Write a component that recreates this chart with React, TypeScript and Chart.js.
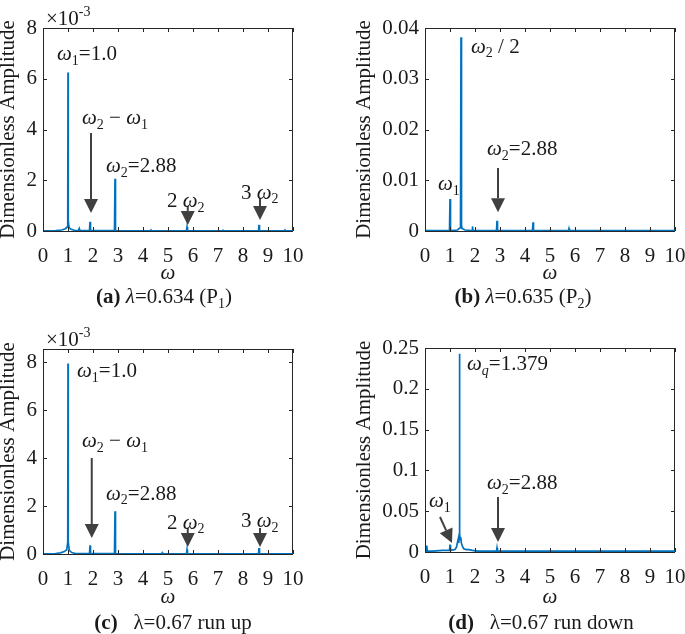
import React, { useEffect, useRef } from 'react';
import { Chart, registerables } from 'chart.js';

Chart.register(...registerables);

const FONT = "'Liberation Serif', 'Times New Roman', Times, serif";
const LINE_COLOR = '#0072BD';
const AXIS_COLOR = '#262626';
const TEXT_COLOR = '#1a1a1a';
const ARROW_COLOR = '#404040';

// ---------- shared x axis ----------
const xTicks = [0, 1, 2, 3, 4, 5, 6, 7, 8, 9, 10];
const xTickLabels = ['0', '1', '2', '3', '4', '5', '6', '7', '8', '9', '10'];

// ---------- (a) lambda = 0.634 (P1), amplitude x 10^-3 ----------
const omegaA = [0, 0.5, 0.75, 0.9, 0.96, 0.99, 1.0, 1.01, 1.04, 1.1, 1.25, 1.42, 1.45, 1.48, 1.86, 1.88, 1.9, 2.86, 2.88, 2.9, 4.3, 4.32, 4.34, 5.74, 5.76, 5.78, 7.18, 7.2, 7.22, 8.62, 8.64, 8.66, 9.66, 9.68, 9.7, 10];
const ampA = [0.01, 0.02, 0.04, 0.09, 0.15, 0.4, 6.25, 0.4, 0.15, 0.08, 0.03, 0.02, 0.1, 0.02, 0.02, 0.36, 0.02, 0.02, 2.06, 0.02, 0.01, 0.04, 0.01, 0.01, 0.16, 0.01, 0.01, 0.03, 0.01, 0.01, 0.24, 0.01, 0.01, 0.04, 0.01, 0.01];
const yTicksA = [0, 2, 4, 6, 8];
const yTickLabelsA = ['0', '2', '4', '6', '8'];

// ---------- (b) lambda = 0.635 (P2) ----------
const omegaB = [0, 0.5, 0.98, 1.0, 1.02, 1.3, 1.4, 1.42, 1.44, 1.46, 1.48, 1.6, 1.88, 1.9, 1.92, 2.4, 2.86, 2.88, 2.9, 3.6, 4.3, 4.32, 4.34, 5.74, 5.76, 5.78, 7.2, 10];
const ampB = [0.0001, 0.0001, 0.0001, 0.0063, 0.0001, 0.0002, 0.0006, 0.0012, 0.0382, 0.0012, 0.0005, 0.0002, 0.0001, 0.0009, 0.0001, 0.0001, 0.0001, 0.002, 0.0001, 0.0001, 0.0001, 0.0017, 0.0001, 0.0001, 0.0005, 0.0001, 0.0001, 0.0001];
const yTicksB = [0, 0.01, 0.02, 0.03, 0.04];
const yTickLabelsB = ['0', '0.01', '0.02', '0.03', '0.04'];

// ---------- (c) lambda = 0.67 run up, amplitude x 10^-3 ----------
const omegaC = [0, 0.5, 0.7, 0.85, 0.95, 0.99, 1.0, 1.01, 1.05, 1.15, 1.3, 1.86, 1.88, 1.9, 2.86, 2.88, 2.9, 4.75, 4.77, 4.79, 5.74, 5.76, 5.78, 8.62, 8.64, 8.66, 10];
const ampC = [0.01, 0.02, 0.05, 0.1, 0.18, 0.5, 7.95, 0.5, 0.15, 0.06, 0.02, 0.02, 0.36, 0.02, 0.02, 1.78, 0.02, 0.01, 0.05, 0.01, 0.01, 0.18, 0.01, 0.01, 0.25, 0.01, 0.01];
const yTicksC = [0, 2, 4, 6, 8];
const yTickLabelsC = ['0', '2', '4', '6', '8'];

// ---------- (d) lambda = 0.67 run down ----------
const omegaD = [0, 0.05, 0.07, 0.09, 0.3, 0.7, 0.98, 1.0, 1.02, 1.2, 1.26, 1.3, 1.33, 1.35, 1.37, 1.379, 1.39, 1.41, 1.43, 1.46, 1.5, 1.55, 1.65, 1.75, 1.9, 2.1, 2.86, 2.88, 2.9, 3.5, 10];
const ampD = [0.001, 0.001, 0.008, 0.001, 0.001, 0.002, 0.002, 0.009, 0.002, 0.003, 0.006, 0.012, 0.016, 0.011, 0.022, 0.243, 0.022, 0.015, 0.018, 0.01, 0.007, 0.004, 0.003, 0.003, 0.002, 0.001, 0.001, 0.005, 0.001, 0.001, 0.001];
const yTicksD = [0, 0.05, 0.1, 0.15, 0.2, 0.25];
const yTickLabelsD = ['0', '0.05', '0.1', '0.15', '0.2', '0.25'];

// ---------- rich text ----------
type Seg = { t: string; f?: 'i' | 'b'; s?: 'sub' | 'sup' };
const W: Seg = { t: 'ω', f: 'i' };
const sub = (t: string, f?: 'i' | 'b'): Seg => ({ t, s: 'sub', f });
const sup = (t: string): Seg => ({ t, s: 'sup' });
const tx = (t: string, f?: 'i' | 'b'): Seg => ({ t, f });

// annotations, positioned in data coordinates (omega, amplitude)
const labelsA = [
  { x: 0.56, y: 7.01, segs: [W, sub('1'), tx('=1.0')] },
  { x: 1.56, y: 4.49, segs: [W, sub('2'), tx(' − '), W, sub('1')] },
  { x: 2.52, y: 2.6, segs: [W, sub('2'), tx('=2.88')] },
  { x: 4.96, y: 1.22, segs: [tx('2 '), W, sub('2')] },
  { x: 7.92, y: 1.54, segs: [tx('3 '), W, sub('2')] },
];
const arrowsA = [
  { x1: 1.92, y1: 3.86, x2: 1.92, y2: 0.71 },
  { x1: 5.79, y1: 0.99, x2: 5.79, y2: 0.24 },
  { x1: 8.68, y1: 1.3, x2: 8.68, y2: 0.43 },
];
const labelsB = [
  { x: 1.84, y: 0.0365, segs: [W, sub('2'), tx(' / 2')] },
  { x: 0.52, y: 0.0094, segs: [W, sub('1')] },
  { x: 2.48, y: 0.0163, segs: [W, sub('2'), tx('=2.88')] },
];
const arrowsB = [{ x1: 2.92, y1: 0.0124, x2: 2.92, y2: 0.0037 }];
const labelsC = [
  { x: 1.36, y: 7.68, segs: [W, sub('1'), tx('=1.0')] },
  { x: 1.56, y: 4.76, segs: [W, sub('2'), tx(' − '), W, sub('1')] },
  { x: 2.52, y: 2.55, segs: [W, sub('2'), tx('=2.88')] },
  { x: 4.96, y: 1.34, segs: [tx('2 '), W, sub('2')] },
  { x: 7.92, y: 1.42, segs: [tx('3 '), W, sub('2')] },
];
const arrowsC = [
  { x1: 1.95, y1: 4.01, x2: 1.95, y2: 0.67 },
  { x1: 5.79, y1: 1.09, x2: 5.79, y2: 0.29 },
  { x1: 8.68, y1: 1.09, x2: 8.68, y2: 0.29 },
];
const labelsD = [
  { x: 1.68, y: 0.2316, segs: [W, sub('q', 'i'), tx('=1.379')] },
  { x: 0.16, y: 0.0637, segs: [W, sub('1')] },
  { x: 2.48, y: 0.0858, segs: [W, sub('2'), tx('=2.88')] },
];
const arrowsD = [
  { x1: 0.6, y1: 0.0429, x2: 1.08, y2: 0.011 },
  { x1: 2.92, y1: 0.0674, x2: 2.92, y2: 0.0123 },
];

const captionA: Seg[] = [tx('(a)', 'b'), tx(' '), tx('λ', 'i'), tx('=0.634 (P'), sub('1'), tx(')')];
const captionB: Seg[] = [tx('(b)', 'b'), tx(' '), tx('λ', 'i'), tx('=0.635 (P'), sub('2'), tx(')')];
const captionC: Seg[] = [tx('(c)', 'b'), tx('   '), tx('λ'), tx('=0.67 run up')];
const captionD: Seg[] = [tx('(d)', 'b'), tx('   '), tx('λ'), tx('=0.67 run down')];
const exponentSegs: Seg[] = [tx('×10'), sup('-3')];

function segFont(seg: Seg, size: number) {
  const sz = seg.s ? Math.round(size * 0.68) : size;
  const style = seg.f === 'i' ? 'italic ' : '';
  const weight = seg.f === 'b' ? 'bold ' : '';
  return `${style}${weight}${sz}px ${FONT}`;
}

function drawRich(ctx: CanvasRenderingContext2D, segs: Seg[], x: number, yMid: number, size: number, align: 'left' | 'center') {
  ctx.save();
  const widths = segs.map((s) => {
    ctx.font = segFont(s, size);
    return ctx.measureText(s.t).width;
  });
  const total = widths.reduce((a, b) => a + b, 0);
  let cx = align === 'center' ? x - total / 2 : x;
  const base = yMid + size * 0.33;
  ctx.textBaseline = 'alphabetic';
  ctx.textAlign = 'left';
  ctx.fillStyle = TEXT_COLOR;
  segs.forEach((s, i) => {
    ctx.font = segFont(s, size);
    const by = s.s === 'sub' ? base + size * 0.22 : s.s === 'sup' ? base - size * 0.42 : base;
    ctx.fillText(s.t, cx, by);
    cx += widths[i];
  });
  ctx.restore();
}

function drawArrow(ctx: CanvasRenderingContext2D, x1: number, y1: number, x2: number, y2: number) {
  const dx = x2 - x1;
  const dy = y2 - y1;
  const len = Math.hypot(dx, dy);
  const ux = dx / len;
  const uy = dy / len;
  const hl = 14;
  const hw = 7;
  const bx = x2 - ux * hl;
  const by = y2 - uy * hl;
  ctx.save();
  ctx.strokeStyle = ARROW_COLOR;
  ctx.fillStyle = ARROW_COLOR;
  ctx.lineWidth = 2;
  ctx.beginPath();
  ctx.moveTo(x1, y1);
  ctx.lineTo(bx, by);
  ctx.stroke();
  ctx.beginPath();
  ctx.moveTo(x2, y2);
  ctx.lineTo(bx - uy * hw, by + ux * hw);
  ctx.lineTo(bx + uy * hw, by - ux * hw);
  ctx.closePath();
  ctx.fill();
  ctx.restore();
}

type PanelCfg = {
  box: { x: number; y: number; w: number; h: number };
  area: { l: number; t: number; r: number; b: number };
  xs: number[];
  ys: number[];
  yMax: number;
  yTicks: number[];
  yTickLabels: string[];
  yTitleX: number;
  xTitleY: number;
  caption: Seg[];
  captionX: number;
  captionY: number;
  exponent: boolean;
  labels: { x: number; y: number; segs: Seg[] }[];
  arrows: { x1: number; y1: number; x2: number; y2: number }[];
};

const panels: PanelCfg[] = [
  {
    box: { x: 0, y: 0, w: 342, h: 317 },
    area: { l: 43, t: 28, r: 293, b: 231 },
    xs: omegaA, ys: ampA, yMax: 8, yTicks: yTicksA, yTickLabels: yTickLabelsA,
    yTitleX: 8, xTitleY: 273, caption: captionA, captionX: 164, captionY: 296, exponent: true,
    labels: labelsA, arrows: arrowsA,
  },
  {
    box: { x: 342, y: 0, w: 343, h: 317 },
    area: { l: 425, t: 28, r: 675, b: 231 },
    xs: omegaB, ys: ampB, yMax: 0.04, yTicks: yTicksB, yTickLabels: yTickLabelsB,
    yTitleX: 364, xTitleY: 273, caption: captionB, captionX: 523, captionY: 296, exponent: false,
    labels: labelsB, arrows: arrowsB,
  },
  {
    box: { x: 0, y: 317, w: 342, h: 317 },
    area: { l: 43, t: 349, r: 293, b: 554 },
    xs: omegaC, ys: ampC, yMax: 8.56, yTicks: yTicksC, yTickLabels: yTickLabelsC,
    yTitleX: 8, xTitleY: 597, caption: captionC, captionX: 173, captionY: 622, exponent: true,
    labels: labelsC, arrows: arrowsC,
  },
  {
    box: { x: 342, y: 317, w: 343, h: 317 },
    area: { l: 425, t: 348, r: 675, b: 552 },
    xs: omegaD, ys: ampD, yMax: 0.25, yTicks: yTicksD, yTickLabels: yTickLabelsD,
    yTitleX: 364, xTitleY: 597, caption: captionD, captionX: 541, captionY: 622, exponent: false,
    labels: labelsD, arrows: arrowsD,
  },
];

function Panel({ cfg }: { cfg: PanelCfg }) {
  const ref = useRef<HTMLCanvasElement>(null);
  useEffect(() => {
    const canvas = ref.current;
    if (!canvas) return;
    const { box, area } = cfg;
    const fontSize = 21;

    const decor = {
      id: 'decor' + box.x + '_' + box.y,
      beforeDatasetsDraw(chart: any) {
        const { ctx, chartArea } = chart;
        ctx.save();
        ctx.strokeStyle = AXIS_COLOR;
        ctx.lineWidth = 1;
        ctx.strokeRect(Math.round(chartArea.left) + 0.5, Math.round(chartArea.top) + 0.5,
          Math.round(chartArea.right - chartArea.left) - 1, Math.round(chartArea.bottom - chartArea.top));
        ctx.restore();
      },
      afterDatasetsDraw(chart: any) {
        const { ctx, chartArea, scales } = chart;
        const tl = 4;
        ctx.save();
        ctx.strokeStyle = AXIS_COLOR;
        ctx.lineWidth = 1;
        ctx.beginPath();
        scales.x.ticks.forEach((t: any) => {
          const px = Math.round(scales.x.getPixelForValue(t.value)) + 0.5;
          ctx.moveTo(px, chartArea.bottom);
          ctx.lineTo(px, chartArea.bottom - tl);
          ctx.moveTo(px, chartArea.top);
          ctx.lineTo(px, chartArea.top + tl);
        });
        scales.y.ticks.forEach((t: any) => {
          const py = Math.round(scales.y.getPixelForValue(t.value)) + 0.5;
          ctx.moveTo(chartArea.left, py);
          ctx.lineTo(chartArea.left + tl, py);
          ctx.moveTo(chartArea.right, py);
          ctx.lineTo(chartArea.right - tl, py);
        });
        ctx.stroke();
        ctx.restore();
      },
      afterDraw(chart: any) {
        const { ctx, chartArea, scales } = chart;
        cfg.arrows.forEach((a) => {
          drawArrow(ctx,
            scales.x.getPixelForValue(a.x1), scales.y.getPixelForValue(a.y1),
            scales.x.getPixelForValue(a.x2), scales.y.getPixelForValue(a.y2));
        });
        cfg.labels.forEach((l) => {
          drawRich(ctx, l.segs, scales.x.getPixelForValue(l.x), scales.y.getPixelForValue(l.y), fontSize, 'left');
        });
        if (cfg.exponent) {
          drawRich(ctx, exponentSegs, chartArea.left + 3, chartArea.top - 10, 21, 'left');
        }
        drawRich(ctx, cfg.caption, cfg.captionX - box.x, cfg.captionY - box.y, fontSize, 'center');
      },
    };

    const chart = new Chart(canvas, {
      type: 'line',
      data: {
        datasets: [
          {
            data: cfg.xs.map((x, i) => ({ x, y: cfg.ys[i] })),
            borderColor: LINE_COLOR,
            backgroundColor: LINE_COLOR,
            borderWidth: 1.7,
            pointRadius: 0,
            fill: false,
            tension: 0,
          },
        ],
      },
      options: {
        animation: false,
        responsive: false,
        devicePixelRatio: 1,
        events: [],
        layout: {
          padding: { left: 0, top: area.t - box.y, right: box.x + box.w - area.r, bottom: 0 },
        },
        plugins: { legend: { display: false }, tooltip: { enabled: false } },
        scales: {
          x: {
            type: 'linear',
            min: 0,
            max: 10,
            grid: { display: false, drawTicks: false },
            border: { display: false },
            afterBuildTicks: (s: any) => { s.ticks = xTicks.map((v) => ({ value: v })); },
            afterFit: (s: any) => {
              s.height = box.y + box.h - area.b;
              s.paddingLeft = 0;
              s.paddingRight = 0;
            },
            ticks: {
              autoSkip: false,
              maxRotation: 0,
              padding: 13,
              color: TEXT_COLOR,
              font: { family: FONT, size: fontSize },
              callback: (v: any) => xTickLabels[xTicks.indexOf(Number(v))] ?? '',
            },
            title: {
              display: true,
              text: 'ω',
              color: TEXT_COLOR,
              font: { family: FONT, size: fontSize, style: 'italic', lineHeight: 1 },
              padding: { top: 0, bottom: box.y + box.h - cfg.xTitleY - fontSize / 2 },
            },
          },
          y: {
            type: 'linear',
            min: 0,
            max: cfg.yMax,
            grid: { display: false, drawTicks: false },
            border: { display: false },
            afterBuildTicks: (s: any) => { s.ticks = cfg.yTicks.map((v) => ({ value: v })); },
            afterFit: (s: any) => {
              s.width = area.l - box.x;
              s.paddingTop = 0;
              s.paddingBottom = 0;
            },
            ticks: {
              autoSkip: false,
              padding: 6,
              color: TEXT_COLOR,
              font: { family: FONT, size: fontSize },
              callback: (v: any) => {
                const i = cfg.yTicks.findIndex((t) => Math.abs(t - Number(v)) < 1e-9);
                return i >= 0 ? cfg.yTickLabels[i] : '';
              },
            },
            title: {
              display: true,
              text: 'Dimensionless Amplitude',
              color: TEXT_COLOR,
              font: { family: FONT, size: fontSize, lineHeight: 1 },
              padding: { top: cfg.yTitleX - box.x - fontSize / 2, bottom: 0 },
            },
          },
        },
      },
      plugins: [decor],
    } as any);
    return () => chart.destroy();
  }, [cfg]);
  return (
    <canvas
      ref={ref}
      width={cfg.box.w}
      height={cfg.box.h}
      style={{ position: 'absolute', left: cfg.box.x, top: cfg.box.y, width: cfg.box.w, height: cfg.box.h }}
    />
  );
}

export default function App() {
  return (
    <div style={{ position: 'fixed', left: 0, top: 0, width: 685, height: 634, background: '#ffffff', overflow: 'hidden' }}>
      {panels.map((p, i) => (
        <Panel key={i} cfg={p} />
      ))}
    </div>
  );
}
